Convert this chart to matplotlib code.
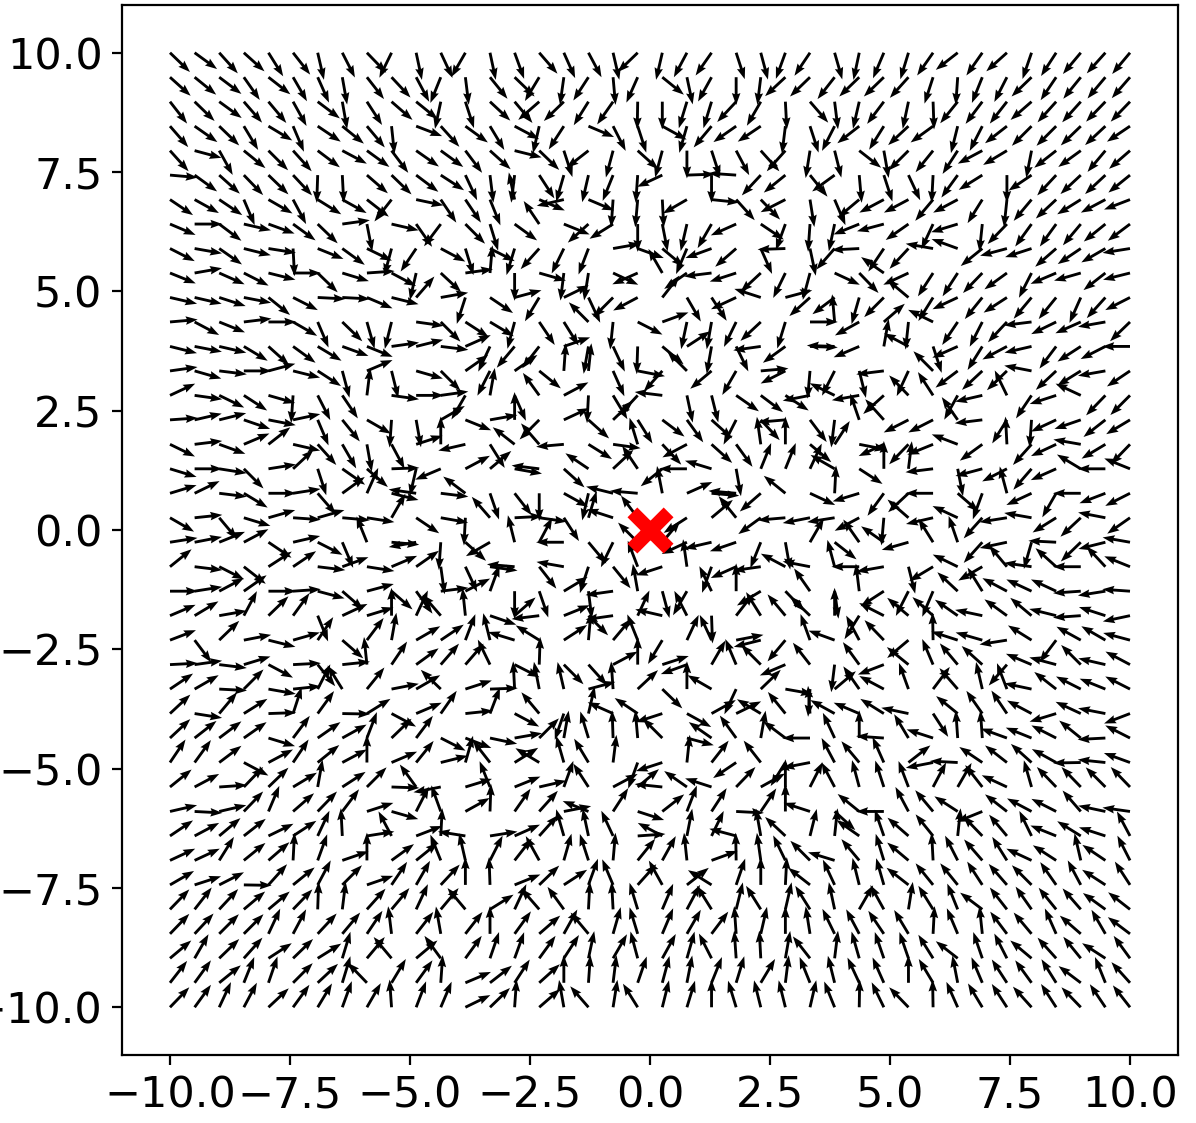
import numpy as np
import matplotlib
matplotlib.use('Agg')
import matplotlib.pyplot as plt

# grid of arrow tails
x_range = [-10, 10]
y_range = [-10, 10]
n_grid = 40
ticks = [-10, -7.5, -5, -2.5, 0, 2.5, 5, 7.5, 10]
target = [0, 0]

# arrow direction in degrees, one row per y value from y=10 down to y=-10
angles_deg = [
    [-44,-36,-48,-42,-58,-52,-77,-63,-46,-116,-78,-65,-120,-78,-70,-49,-66,-62,-77,-136,-103,-118,-125,-72,-75,-110,-124,-74,-102,-113,-107,-125,-142,-125,-138,-109,-123,-130,-132,-130],
    [-42,-39,-37,-55,-38,-60,-66,-80,-52,-47,-62,-112,-83,-51,-44,-121,-98,-123,-85,-114,-39,-78,-119,-90,-97,-137,-136,-128,-136,-136,-132,-108,-94,-112,-117,-136,-124,-129,-130,-131],
    [-52,-44,-36,-49,-50,-61,-37,-80,-57,-41,-39,-102,-72,-43,-50,-139,-136,-122,-125,-91,-90,-107,-107,-133,-120,-87,-49,-83,-103,-127,-102,-88,-129,-127,-128,-139,-132,-132,-134,-134],
    [-49,-35,-44,-59,-31,-67,-34,-39,-50,-84,-21,-48,-36,-59,-28,-103,-123,-23,-63,-72,-29,-106,-130,-145,-146,-97,-72,-117,-142,-122,-137,-144,-104,-117,-142,-135,-135,-136,-137,-146],
    [-48,-15,-61,-39,-45,-48,-37,-28,-36,-53,-35,-36,-53,-42,-14,-44,-72,-142,-105,-42,-105,-90,-72,-62,-48,-132,-99,-76,-38,-80,-135,-129,-123,-152,-149,-101,-142,-144,-130,-139],
    [-5,-36,-42,-46,-44,-47,-92,-87,-41,-44,-37,-33,-65,-83,-97,-57,-106,-103,-112,-94,-155,2,-90,176,-133,-141,-51,-144,-85,-72,-65,-93,-126,-148,-90,-146,-133,-137,-137,-141],
    [-34,-29,-34,-67,-30,-62,-32,-29,-38,-128,-12,-56,-56,-68,102,-23,-167,-23,-94,-95,-87,-150,-6,-48,-46,-153,-81,-67,-140,-152,-152,-130,-152,-122,-96,-130,-137,-148,-152,-159],
    [-23,0,-37,-13,-20,-36,-44,8,-79,-13,-55,-127,-45,-73,-36,124,-22,-138,-148,-90,-79,-103,-120,-156,-34,-110,-94,-102,-158,-165,-145,-115,-163,-96,-134,-126,-126,-130,-141,-143],
    [-27,-10,-35,-14,-9,-87,-22,-36,-26,-105,-124,-28,-73,-27,-107,-132,-116,-111,10,-20,-40,-113,-160,-139,-66,-178,-78,-131,-177,-124,-133,170,160,-141,-165,-162,-139,-146,-150,-171],
    [-22,10,-24,-27,-14,0,-44,-17,4,-28,-103,-43,8,85,-90,-16,-97,-99,-25,-156,120,-145,-173,-162,-137,-116,-105,-25,-46,145,-155,-123,-123,-134,-144,-117,-157,-164,-142,-166],
    [-13,-13,-18,-11,-39,-27,-3,-3,-23,-14,49,10,-108,-34,15,-121,26,-65,-135,-152,52,-60,-57,-155,162,15,-138,-143,-106,-135,140,-122,-155,-129,-147,-130,-129,-114,-132,-153],
    [5,-28,-22,7,0,-30,-67,-44,-74,-104,-8,-45,-33,-31,-105,-56,-58,135,-96,-27,20,-102,-100,-116,-137,-107,0,95,-151,41,-96,154,-124,-117,-133,-173,-154,-156,-170,-136],
    [-14,-11,-13,-31,-42,-36,-31,-20,-22,8,14,-7,24,-115,-130,-128,19,-100,-65,-92,-40,33,-100,-64,-172,-144,-2,178,-157,80,152,-72,-156,-122,-152,-167,-127,-147,-153,180],
    [8,-16,-7,0,15,-14,-33,-75,23,-76,-16,-45,35,-117,35,-39,86,84,-66,-11,-132,135,-140,-120,5,-153,-95,-117,-76,-173,-115,135,-143,-137,-136,169,-137,-148,-170,-146],
    [25,-8,-26,-33,-16,-94,-63,-56,83,-8,0,8,-120,80,-66,126,28,-93,-59,-133,173,-78,-76,-35,-37,-33,-169,154,-170,-138,134,123,-119,-167,116,-124,-162,155,-134,-135],
    [4,13,14,-19,-11,12,-67,-51,-30,-94,-80,30,-22,10,90,-135,25,-42,44,-58,-37,-54,-42,-117,-47,-175,-53,-97,109,132,-153,-153,125,-173,-122,-94,-155,-161,-142,-149],
    [-26,7,-20,23,38,-13,-48,-60,-80,-62,18,90,-167,-58,142,131,-175,-32,-8,107,-47,-152,-42,-54,98,90,-40,57,-11,-155,-134,-158,159,-144,93,-132,-155,170,-149,-134],
    [-17,0,-9,-45,9,43,-72,-35,-41,2,-103,-157,28,40,-10,173,-42,146,43,124,-141,180,163,-80,68,68,65,150,-33,90,83,-173,-79,-165,-153,-131,-156,149,180,158],
    [17,26,-7,-31,0,9,-49,36,66,-14,172,-7,143,-71,-52,-90,-29,-103,166,175,101,24,-5,175,-139,141,-25,87,-163,-126,-137,180,-41,-110,105,-155,-120,180,-159,-153],
    [-30,6,-50,-17,16,-4,16,-5,-9,60,-34,-10,-93,131,3,-8,-57,73,162,127,-140,-147,40,129,-144,-175,-169,-171,-152,-95,139,-167,155,-132,-171,170,-148,-137,169,-145],
    [9,11,22,28,-34,13,-27,-67,112,-5,-170,-94,-42,-150,104,62,180,-50,-116,135,50,-155,-167,-161,-112,-80,60,-38,125,145,-164,122,109,-132,-168,-106,177,-136,-166,170],
    [39,-7,-27,-38,33,34,-7,20,-9,23,35,-82,-65,-8,175,-52,170,-108,-51,111,-162,98,-110,-156,-172,152,169,105,180,-170,-76,-149,154,-150,130,172,138,180,133,158],
    [0,9,28,35,0,4,-15,-41,15,-41,-54,7,27,70,-90,-71,31,-83,-172,100,-75,-120,116,90,-149,-46,125,-82,97,-147,-117,-113,137,122,152,155,155,-176,-171,176],
    [23,31,10,62,44,54,-68,25,17,90,65,131,96,-19,41,-173,22,-45,-172,65,167,117,-88,52,122,130,136,90,-122,153,140,138,145,168,144,140,166,-176,162,-168],
    [21,-53,44,11,-14,16,56,-41,53,80,30,34,69,104,163,148,33,85,50,112,-121,65,115,11,-166,-130,110,160,118,134,-140,91,162,164,-171,148,-127,151,150,165],
    [3,8,-7,17,-28,3,-51,6,96,56,36,49,49,116,-27,88,-45,-48,28,90,18,-160,60,113,135,-157,128,-97,126,-159,141,113,130,138,-131,157,165,135,167,152],
    [34,30,-3,45,-10,6,63,122,51,11,30,136,18,2,93,101,103,15,94,43,-44,90,150,-115,44,-10,-94,40,125,152,110,53,131,103,111,168,142,153,158,153],
    [43,-9,50,32,2,72,54,-1,32,-28,23,55,6,69,-28,130,-109,77,156,146,-162,-29,29,26,149,129,94,151,157,148,168,-57,141,125,124,152,-163,155,169,-159],
    [43,38,37,35,-17,53,35,29,69,44,53,-27,-21,-12,10,45,80,107,92,95,135,-15,145,126,80,143,180,115,90,176,121,162,94,94,160,158,153,141,-177,153],
    [56,54,37,-28,28,56,39,28,90,23,51,14,74,128,32,149,106,121,83,-110,-162,84,52,-146,128,-122,-169,118,130,114,38,-169,177,146,142,138,151,-179,174,160],
    [39,28,4,46,44,31,80,33,45,-2,126,-169,17,112,22,13,70,123,28,40,174,145,162,46,29,90,63,118,105,108,111,62,60,128,155,106,134,134,135,134],
    [13,-3,13,46,67,41,46,53,18,-16,63,110,29,88,55,48,11,158,57,-18,38,69,57,-3,56,90,162,-42,141,180,118,130,147,-158,142,152,153,131,168,172],
    [34,28,40,38,26,33,65,93,9,118,21,87,171,9,24,48,106,102,115,4,152,79,64,165,100,137,76,84,145,109,139,129,84,134,130,116,158,148,162,118],
    [25,25,58,39,41,87,70,19,90,36,39,112,103,63,52,119,74,108,85,51,61,96,20,91,98,116,135,163,130,107,140,93,117,131,122,155,147,103,146,117],
    [30,18,27,-1,48,39,62,45,19,56,60,47,90,92,22,44,33,70,113,48,119,38,148,71,90,87,142,115,104,106,142,129,129,123,131,135,125,118,147,123],
    [46,52,47,40,40,46,88,83,48,50,65,50,130,32,65,131,126,87,93,107,67,62,122,76,122,77,122,102,60,119,81,122,112,143,128,125,129,131,144,142],
    [46,47,45,45,65,62,47,50,56,97,52,100,52,90,54,41,61,130,74,107,67,60,53,94,77,90,99,116,118,124,121,87,113,96,127,130,114,139,120,143],
    [40,60,44,48,33,44,32,73,50,130,40,126,54,71,70,54,57,78,60,105,61,74,117,94,93,80,128,83,106,109,109,122,142,109,117,140,132,129,147,126],
    [52,54,39,68,71,45,43,73,134,59,54,86,23,38,57,42,90,86,83,71,75,79,68,73,59,83,112,104,115,114,90,121,101,113,123,126,122,143,112,132],
    [46,54,65,62,43,54,59,70,60,94,69,67,26,44,86,41,100,131,81,122,76,73,90,107,104,104,77,112,89,116,134,91,114,121,123,132,123,134,124,128],
]

dpi = 200
fig_w, fig_h = 1196, 1123
fig = plt.figure(figsize=(fig_w / dpi, fig_h / dpi), dpi=dpi)

# axes box in pixels: left 122, right 1178, top 5, bottom 1055
ax = fig.add_axes([122 / fig_w, 1 - 1055 / fig_h, 1056 / fig_w, 1050 / fig_h])

x = np.linspace(x_range[0], x_range[1], n_grid)
y = np.linspace(y_range[1], y_range[0], n_grid)
X, Y = np.meshgrid(x, y)
theta = np.radians(np.array(angles_deg, dtype=float))
U = np.cos(theta)
V = np.sin(theta)

ax.quiver(X, Y, U, V, color='black', scale=38, width=0.0027, headwidth=3, headlength=4.2, headaxislength=3.8, zorder=2)
ax.scatter(target[0], target[1], marker='x', color='red', s=170, linewidths=5, zorder=3)

ax.set_xlim(-11, 11)
ax.set_ylim(-11, 11)
ax.set_xticks(ticks)
ax.set_yticks(ticks)
ax.set_xticklabels(['%.1f' % t if t >= 0 else '\u2212%.1f' % -t for t in ticks])
ax.set_yticklabels(['%.1f' % t if t >= 0 else '\u2212%.1f' % -t for t in ticks])
ax.tick_params(labelsize=15.5)

fig.savefig('out.png', dpi=dpi)
